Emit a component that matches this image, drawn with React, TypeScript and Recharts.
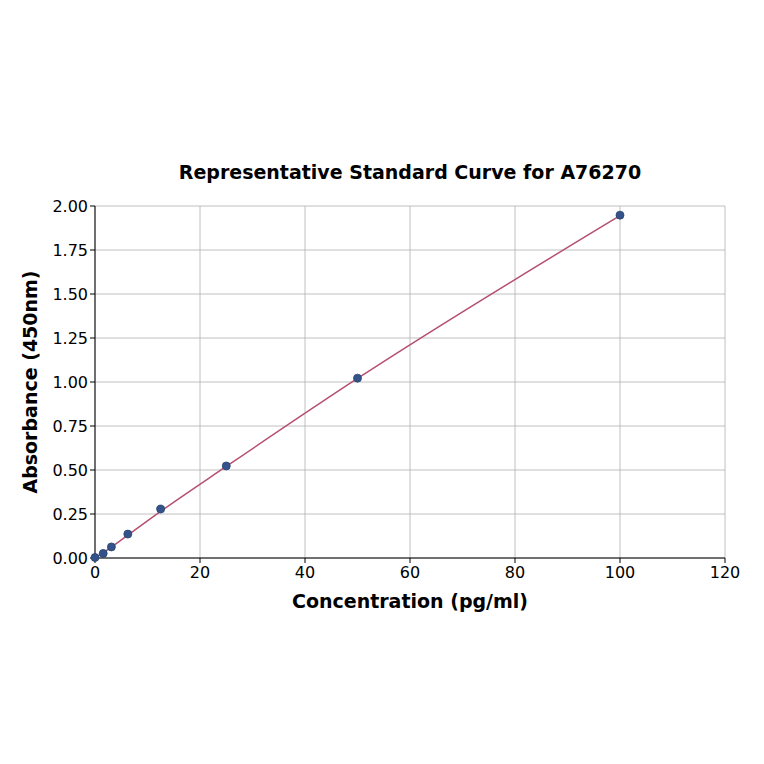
import { CartesianGrid, ComposedChart, Line, Scatter, XAxis, YAxis } from 'recharts';

const concentrations = [0, 1.56, 3.125, 6.25, 12.5, 25, 50, 100];
const absorbance = [0.003, 0.026, 0.063, 0.136, 0.278, 0.523, 1.022, 1.948];
const fitted = [0.0, 0.03, 0.062, 0.13, 0.265, 0.52, 1.02, 1.945];
const xTicks = [0, 20, 40, 60, 80, 100, 120];
const yTicks = [0, 0.25, 0.5, 0.75, 1.0, 1.25, 1.5, 1.75, 2.0];

const data = concentrations.map((c, i) => ({ conc: c, abs: absorbance[i], fit: fitted[i] }));

const font = 'DejaVu Sans, sans-serif';

const App = () => {
	return (
		<div style={{ position: 'absolute', left: 0, top: 0, width: 764, height: 764, background: '#fff', fontFamily: font }}>
			<div
				style={{
					position: 'absolute',
					left: 95,
					width: 630,
					top: 159,
					textAlign: 'center',
					fontSize: 19,
					fontWeight: 'bold',
					lineHeight: '26px',
				}}>
				Representative Standard Curve for A76270
			</div>
			<ComposedChart
				width={764}
				height={764}
				data={data}
				margin={{ top: 206, right: 39, bottom: 176, left: 35 }}>
				<CartesianGrid stroke='#b0b0b0' strokeWidth={0.8} vertical horizontal />
				<XAxis
					dataKey='conc'
					type='number'
					domain={[0, 120]}
					ticks={xTicks}
					height={30}
					stroke='#000'
					tickSize={5}
					tick={{ fill: '#000', fontSize: 16, fontFamily: font, dy: 2 }}
					label={{ value: 'Concentration (pg/ml)', position: 'insideBottom', offset: -20, fill: '#000', fontSize: 19, fontWeight: 'bold', fontFamily: font }}
				/>
				<YAxis
					type='number'
					domain={[0, 2]}
					ticks={yTicks}
					width={60}
					stroke='#000'
					tickSize={5}
					tickFormatter={(v: number) => v.toFixed(2)}
					tick={{ fill: '#000', fontSize: 16, fontFamily: font }}
					label={{ value: 'Absorbance (450nm)', angle: -90, position: 'insideLeft', offset: -5, style: { textAnchor: 'middle' }, fill: '#000', fontSize: 19, fontWeight: 'bold', fontFamily: font }}
				/>
				<XAxis xAxisId='top' orientation='top' type='number' domain={[0, 120]} height={0} tick={false} tickLine={false} stroke='#000' />
				<YAxis yAxisId='right' orientation='right' type='number' domain={[0, 2]} width={0} tick={false} tickLine={false} stroke='#000' />
				<Line
					dataKey='fit'
					type='monotone'
					stroke='#b5506f'
					strokeWidth={1.5}
					dot={false}
					isAnimationActive={false}
				/>
				<Scatter dataKey='abs' fill='#34538a' isAnimationActive={false} shape={(p: any) => <circle cx={p.cx} cy={p.cy} r={4} fill='#34538a' stroke='#2a4470' strokeWidth={0.8} />} />
			</ComposedChart>
		</div>
	);
};

export default App;
